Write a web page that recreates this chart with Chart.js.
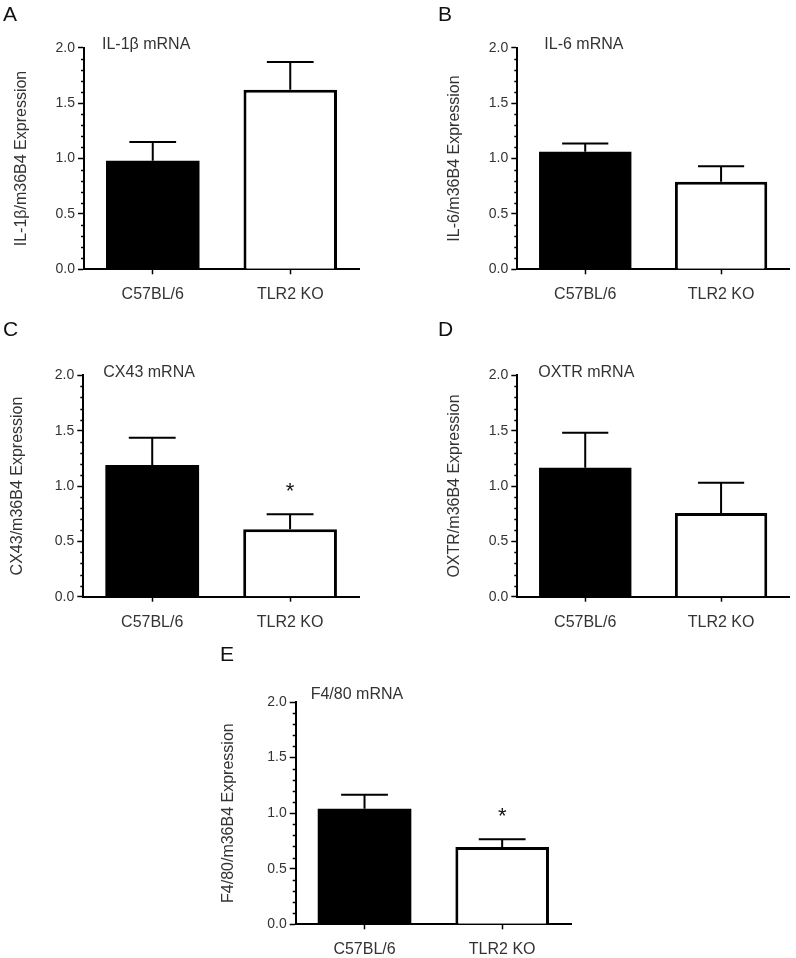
<!DOCTYPE html>
<html>
<head>
<meta charset="utf-8">
<script src="https://cdn.jsdelivr.net/npm/chart.js@4.4.0/dist/chart.umd.min.js"></script>
<style>
  body { margin: 0; background: #fff; }
  #page { position: relative; width: 796px; height: 958px; }
  #page canvas { position: absolute; }
</style>
</head>
<body>
<div id="page"></div>
<script>
// ===== Dados =====
const groups = ['C57BL/6', 'TLR2 KO'];
const letters = ['A', 'B', 'C', 'D', 'E'];
const mrnaTitles = ['IL-1β mRNA', 'IL-6 mRNA', 'CX43 mRNA', 'OXTR mRNA', 'F4/80 mRNA'];
const axisTitles = [
  'IL-1β/m36B4 Expression',
  'IL-6/m36B4 Expression',
  'CX43/m36B4 Expression',
  'OXTR/m36B4 Expression',
  'F4/80/m36B4 Expression'
];

// media e erro padrao (so a barra de cima e desenhada)
const il1bMean = [0.98, 1.62];
const il1bSem = [0.17, 0.25];
const il6Mean = [1.06, 0.79];
const il6Sem = [0.075, 0.14];
const cx43Mean = [1.19, 0.61];
const cx43Sem = [0.245, 0.135];
const oxtrMean = [1.165, 0.755];
const oxtrSem = [0.315, 0.275];
const f480Mean = [1.04, 0.695];
const f480Sem = [0.125, 0.07];

// asterisco de significancia
const il1bSig = [false, false];
const il6Sig = [false, false];
const cx43Sig = [false, true];
const oxtrSig = [false, false];
const f480Sig = [false, true];

const means = [il1bMean, il6Mean, cx43Mean, oxtrMean, f480Mean];
const sems = [il1bSem, il6Sem, cx43Sem, oxtrSem, f480Sem];
const sigs = [il1bSig, il6Sig, cx43Sig, oxtrSig, f480Sig];

const yMin = 0, yMax = 2, yMajor = 0.5, yMinor = 0.1;

// ===== Layout (coordenadas da pagina) =====
// box: canvas [x, y, w, h]; plot: area do grafico [left, top, right, bottom]
const layout = [
  { box: [0, 0, 398, 300],   plot: [84, 47.7, 359, 269.3],   yTitleX: 22,    title: [18, -3], letter: [3, 15] },
  { box: [398, 0, 398, 300], plot: [517.3, 47.7, 789, 269.3], yTitleX: 454.7, title: [27, -3], letter: [438, 15] },
  { box: [0, 300, 398, 330], plot: [83.3, 375.3, 359, 596.7], yTitleX: 18,    title: [20, -3], letter: [3, 330] },
  { box: [398, 300, 398, 330], plot: [517.3, 375.3, 789, 596.7], yTitleX: 454.7, title: [21, -3], letter: [438, 330] },
  { box: [200, 630, 400, 328], plot: [295.7, 702, 571, 924.3], yTitleX: 228.3, title: [15, -7], letter: [220, 655] }
];

const FONT = "'Liberation Sans', Arial, sans-serif";
const TEXT = '#333';
Chart.defaults.font.family = FONT;

const isMajor = v => Math.round(v / yMinor) % Math.round(yMajor / yMinor) === 0;

// ===== Plugin: letra, titulo, barras de erro, asteriscos, ticks menores =====
const panelDecor = {
  id: 'panelDecor',
  afterDatasetsDraw(chart, args, o) {
    const ctx = chart.ctx;
    const y = chart.scales.y;
    const area = chart.chartArea;
    const meta = chart.getDatasetMeta(0);
    ctx.save();

    // barras de erro (so para cima)
    ctx.strokeStyle = '#000';
    ctx.lineWidth = 2;
    meta.data.forEach((bar, i) => {
      const top = y.getPixelForValue(o.mean[i] + o.sem[i]);
      const half = bar.width / 4;
      ctx.beginPath();
      ctx.moveTo(bar.x, bar.y);
      ctx.lineTo(bar.x, top);
      ctx.moveTo(bar.x - half, top);
      ctx.lineTo(bar.x + half, top);
      ctx.stroke();
      if (o.sig[i]) {
        ctx.fillStyle = '#111';
        ctx.font = '22px ' + FONT;
        ctx.textAlign = 'center';
        ctx.textBaseline = 'middle';
        ctx.fillText('*', bar.x, top - 22);
      }
    });

    // ticks menores do eixo y
    ctx.lineWidth = 1.5;
    y.ticks.forEach(t => {
      if (isMajor(t.value)) return;
      const py = Math.round(y.getPixelForValue(t.value)) + 0.5;
      ctx.beginPath();
      ctx.moveTo(area.left - 3, py);
      ctx.lineTo(area.left, py);
      ctx.stroke();
    });

    // titulo dentro do painel
    ctx.fillStyle = TEXT;
    ctx.font = '16px ' + FONT;
    ctx.textAlign = 'left';
    ctx.textBaseline = 'middle';
    ctx.fillText(o.title, area.left + o.titlePos[0], area.top + o.titlePos[1]);

    // letra do painel
    ctx.fillStyle = '#111';
    ctx.font = '21px ' + FONT;
    ctx.fillText(o.letter, o.letterPos[0], o.letterPos[1]);
    ctx.restore();
  }
};

// ===== Cria cada painel =====
const page = document.getElementById('page');

function makePanel(i) {
  const L = layout[i];
  const [bx, by, bw, bh] = L.box;
  const [pl, pt, pr, pb] = L.plot;

  const canvas = document.createElement('canvas');
  canvas.width = bw;
  canvas.height = bh;
  canvas.style.left = bx + 'px';
  canvas.style.top = by + 'px';
  page.appendChild(canvas);

  // titulo do eixo y: centro = scale.left + lineHeight/2
  const titleSize = 16;
  const padLeft = (L.yTitleX - bx) - titleSize * 1.2 / 2;
  const yWidth = (pl - bx) - padLeft;
  const xHeight = (by + bh) - pb;

  new Chart(canvas, {
    type: 'bar',
    data: {
      labels: groups,
      datasets: [{
        data: means[i],
        backgroundColor: ['#000', '#fff'],
        borderColor: '#000',
        borderWidth: [0, 3],   // barra preta sem borda (evita a linha clara)
        categoryPercentage: 1,
        barPercentage: 0.68
      }]
    },
    options: {
      responsive: false,
      animation: false,
      layout: { padding: { left: padLeft, top: pt - by, right: (bx + bw) - pr, bottom: 0 } },
      plugins: {
        legend: { display: false },
        tooltip: { enabled: false },
        panelDecor: {
          mean: means[i], sem: sems[i], sig: sigs[i],
          title: mrnaTitles[i], titlePos: L.title,
          letter: letters[i], letterPos: [L.letter[0] - bx, L.letter[1] - by]
        }
      },
      scales: {
        x: {
          ticks: { color: TEXT, font: { size: 16 }, padding: 11, maxRotation: 0 },
          grid: { drawOnChartArea: false, offset: false, tickLength: 5, tickWidth: 1.5, tickColor: '#000' },
          border: { color: '#000', width: 2 },
          afterFit: s => { s.height = xHeight; }
        },
        y: {
          min: yMin,
          max: yMax,
          ticks: {
            stepSize: yMinor,
            autoSkip: false,
            color: TEXT,
            font: { size: 14 },
            padding: 3,
            callback: v => isMajor(v) ? v.toFixed(1) : ''
          },
          grid: {
            drawOnChartArea: false,
            tickLength: 6,
            tickWidth: 1.5,
            tickColor: c => isMajor(c.tick.value) ? '#000' : 'rgba(0,0,0,0)'
          },
          border: { color: '#000', width: 2 },
          title: { display: true, text: axisTitles[i], color: TEXT, font: { size: titleSize }, padding: 0 },
          afterFit: s => { s.width = yWidth; }
        }
      }
    },
    plugins: [panelDecor]
  });
}

layout.forEach((_, i) => makePanel(i));
</script>
</body>
</html>
